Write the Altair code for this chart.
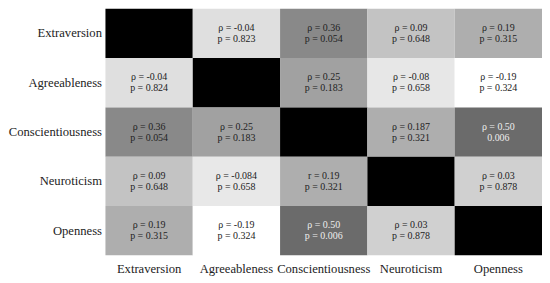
import altair as alt
import pandas as pd

traits = ["Extraversion", "Agreeableness", "Conscientiousness", "Neuroticism", "Openness"]

rho_values = [
    [1.0, -0.04, 0.36, 0.09, 0.19],
    [-0.04, 1.0, 0.25, -0.08, -0.19],
    [0.36, 0.25, 1.0, 0.187, 0.50],
    [0.09, -0.084, 0.19, 1.0, 0.03],
    [0.19, -0.19, 0.50, 0.03, 1.0],
]

line1_labels = [
    ["", "ρ = -0.04", "ρ = 0.36", "ρ = 0.09", "ρ = 0.19"],
    ["ρ = -0.04", "", "ρ = 0.25", "ρ = -0.08", "ρ = -0.19"],
    ["ρ = 0.36", "ρ = 0.25", "", "ρ = 0.187", "ρ = 0.50"],
    ["ρ = 0.09", "ρ = -0.084", "r = 0.19", "", "ρ = 0.03"],
    ["ρ = 0.19", "ρ = -0.19", "ρ = 0.50", "ρ = 0.03", ""],
]

line2_labels = [
    ["", "p = 0.823", "p = 0.054", "p = 0.648", "p = 0.315"],
    ["p = 0.824", "", "p = 0.183", "p = 0.658", "p = 0.324"],
    ["p = 0.054", "p = 0.183", "", "p = 0.321", "0.006"],
    ["p = 0.648", "p = 0.658", "p = 0.321", "", "p = 0.878"],
    ["p = 0.315", "p = 0.324", "p = 0.006", "p = 0.878", ""],
]

rows = []
for i, r in enumerate(traits):
    for j, c in enumerate(traits):
        rows.append({
            "row": r,
            "col": c,
            "rho": rho_values[i][j],
            "l1": line1_labels[i][j],
            "l2": line2_labels[i][j],
            "dark": rho_values[i][j] >= 0.45 and i != j,
        })
df = pd.DataFrame(rows)

FONT = "Liberation Serif"

base = alt.Chart(df).encode(
    x=alt.X("col:N", sort=traits, title=None,
            axis=alt.Axis(orient="bottom", labelAngle=0, ticks=False, domain=False,
                          labelFont=FONT, labelFontSize=12.7, labelColor="#222",
                          labelPadding=7)),
    y=alt.Y("row:N", sort=traits, title=None,
            axis=alt.Axis(ticks=False, domain=False, labelFont=FONT,
                          labelFontSize=12.7, labelColor="#222", labelPadding=4)),
)

rect = base.mark_rect().encode(
    color=alt.Color("rho:Q",
                    scale=alt.Scale(domain=[-0.19, 1.0], range=["#ffffff", "#000000"],
                                    interpolate="rgb"),
                    legend=None)
)

text1 = base.mark_text(font=FONT, fontSize=10, dy=-5.5).encode(
    text="l1:N",
    color=alt.condition("datum.dark", alt.value("#eeeeee"), alt.value("#222222")),
)
text2 = base.mark_text(font=FONT, fontSize=10, dy=5.5).encode(
    text="l2:N",
    color=alt.condition("datum.dark", alt.value("#eeeeee"), alt.value("#222222")),
)

chart = (rect + text1 + text2).properties(
    width=439, height=248, padding={"left": 0, "top": 0, "right": 0, "bottom": 0}
).configure_view(stroke=None).configure_scale(bandPaddingInner=0)

chart.save("out.html", embed_options={"renderer": "svg", "actions": False})
